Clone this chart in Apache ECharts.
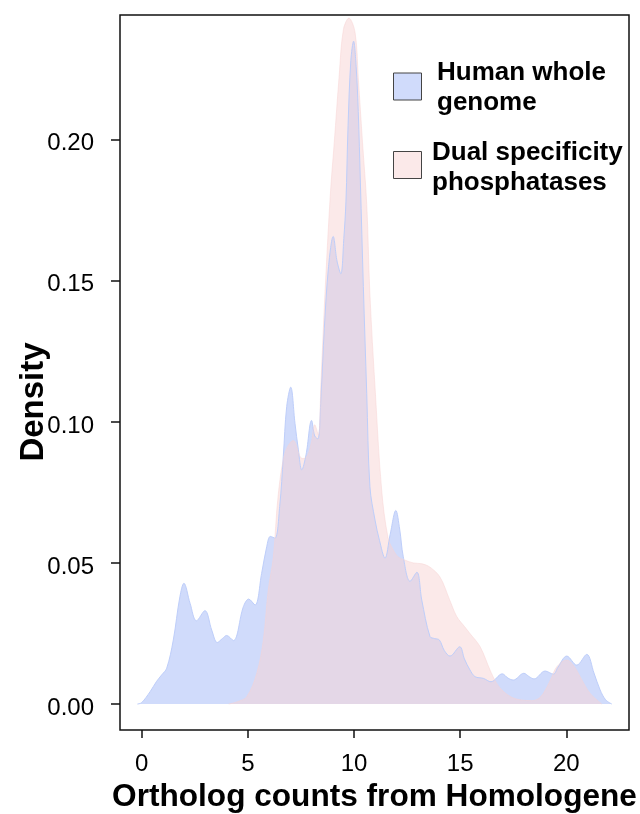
<!DOCTYPE html>
<html lang="en">
  <head>
    <meta charset="UTF-8" />
    <title>Ortholog counts density</title>
    <script src="https://cdn.jsdelivr.net/npm/echarts@6/dist/echarts.min.js"></script>
    <style>
      html, body { margin: 0; padding: 0; background: #fff; }
    </style>
  </head>
  <body>
    <div id="chart" style="width: 640px; height: 814px"></div>

    <script>
      // density curve: x = ortholog count, y = density
      var genomeX = [-0.2, 0.0, 0.4, 0.7, 0.94, 1.18, 1.49, 1.8, 1.99, 2.28, 2.58, 2.98, 3.3, 3.56, 3.8, 4.0, 4.32, 4.79, 5.04, 5.34, 5.65, 5.89, 6.06, 6.28, 6.5, 6.67, 6.83, 7.02, 7.22, 7.38, 7.54, 7.74, 8.0, 8.15, 8.3, 8.45, 8.6, 8.8, 9.02, 9.2, 9.38, 9.52, 9.62, 9.72, 9.85, 9.98, 10.1, 10.2, 10.3, 10.44, 10.6, 10.75, 10.99, 11.2, 11.46, 11.7, 11.97, 12.15, 12.32, 12.64, 12.96, 13.19, 13.58, 13.8, 14.02, 14.25, 14.52, 14.98, 15.2, 15.46, 15.7, 16.09, 16.45, 16.98, 17.25, 17.5, 18.0, 18.25, 18.48, 19.0, 19.39, 19.6, 20.02, 20.49, 20.96, 21.3, 21.59, 21.85, 22.14];
      var genomeY = [0, 0.0005, 0.0044, 0.008, 0.0103, 0.0127, 0.0227, 0.038, 0.0428, 0.0357, 0.0295, 0.0331, 0.0262, 0.0218, 0.0232, 0.0243, 0.0225, 0.0345, 0.0372, 0.0351, 0.0463, 0.0558, 0.0594, 0.0588, 0.07, 0.0877, 0.1054, 0.1123, 0.0995, 0.0901, 0.083, 0.0883, 0.1005, 0.095, 0.094, 0.11, 0.133, 0.155, 0.1657, 0.157, 0.1525, 0.165, 0.178, 0.205, 0.228, 0.2349, 0.226, 0.21, 0.185, 0.148, 0.11, 0.077, 0.0652, 0.058, 0.0517, 0.06, 0.0686, 0.062, 0.0522, 0.0435, 0.0467, 0.0369, 0.0239, 0.0232, 0.0227, 0.019, 0.017, 0.0203, 0.016, 0.0121, 0.0097, 0.0091, 0.0079, 0.0107, 0.0092, 0.0085, 0.0109, 0.0097, 0.0089, 0.0117, 0.0106, 0.013, 0.017, 0.0138, 0.0176, 0.011, 0.005, 0.0015, 0];

      var dspX = [4.1, 4.5, 4.95, 5.42, 5.73, 5.96, 6.2, 6.43, 6.75, 7.14, 7.46, 7.6, 7.8, 8.0, 8.15, 8.32, 8.45, 8.63, 8.88, 9.07, 9.3, 9.5, 9.76, 10.05, 10.2, 10.4, 10.6, 10.75, 11.0, 11.3, 11.6, 11.85, 12.1, 12.4, 12.8, 13.2, 13.58, 14.05, 14.5, 14.84, 15.2, 15.46, 15.94, 16.41, 16.72, 17.03, 17.4, 17.82, 18.37, 18.7, 18.92, 19.25, 19.55, 20.02, 20.35, 20.65, 21.0, 21.27, 21.67];
      var dspY = [0, 0.0008, 0.0026, 0.0109, 0.0227, 0.0404, 0.052, 0.074, 0.089, 0.0934, 0.0877, 0.087, 0.088, 0.093, 0.099, 0.0954, 0.115, 0.145, 0.18, 0.199, 0.2225, 0.239, 0.2431, 0.238, 0.222, 0.199, 0.177, 0.145, 0.111, 0.076, 0.059, 0.0546, 0.052, 0.051, 0.05, 0.0497, 0.0485, 0.045, 0.037, 0.031, 0.0275, 0.025, 0.0203, 0.012, 0.0073, 0.0045, 0.0025, 0.0015, 0.0012, 0.002, 0.0038, 0.0085, 0.0132, 0.0156, 0.0135, 0.0097, 0.005, 0.0026, 0];

      var xTicks = [0, 5, 10, 15, 20];
      var yTicks = [0, 0.05, 0.1, 0.15, 0.2];

      var font = "'Liberation Sans', Arial, Helvetica, sans-serif";
      var blueFill = "rgb(208,219,251)";
      var pinkFill = "rgb(247,211,211)";

      function pairs(xs, ys) {
        return xs.map(function (x, i) {
          return [x, ys[i]];
        });
      }

      var myChart = echarts.init(document.getElementById("chart"), null, { renderer: "canvas" });

      var option = {
        animation: false,
        backgroundColor: "#fff",
        textStyle: { fontFamily: font, color: "#000" },
        grid: {
          left: 120,
          right: 11,
          top: 15,
          bottom: 84,
          outerBoundsMode: "none",
          containLabel: false,
          show: true,
          borderColor: "#111",
          borderWidth: 1.5,
          backgroundColor: "transparent",
        },
        xAxis: {
          type: "value",
          min: -1.02,
          max: 22.95,
          name: "Ortholog counts from Homologene",
          nameLocation: "middle",
          nameGap: 47,
          nameTextStyle: { fontFamily: font, fontSize: 31.6, fontWeight: "bold", color: "#000" },
          axisLine: { show: false, onZero: false },
          splitLine: { show: false },
          axisTick: {
            show: true,
            length: 8,
            customValues: xTicks,
            lineStyle: { color: "#111", width: 1.5 },
          },
          axisLabel: {
            customValues: xTicks,
            fontFamily: font,
            fontSize: 24,
            color: "#000",
            margin: 22,
          },
        },
        yAxis: {
          type: "value",
          min: -0.0092,
          max: 0.2442,
          axisLine: { show: false, onZero: false },
          splitLine: { show: false },
          axisTick: {
            show: true,
            length: 9,
            customValues: yTicks,
            lineStyle: { color: "#111", width: 1.5 },
          },
          axisLabel: {
            customValues: yTicks,
            fontFamily: font,
            fontSize: 24,
            color: "#000",
            margin: 26,
            formatter: function (v) {
              return "{v|" + v.toFixed(2) + "}";
            },
            rich: {
              v: { fontFamily: font, fontSize: 24, color: "#000", padding: [8, 0, 0, 0] },
            },
          },
        },
        series: [
          {
            name: "Human whole genome",
            type: "line",
            data: pairs(genomeX, genomeY),
            smooth: 0.35,
            symbol: "none",
            silent: true,
            lineStyle: { color: "rgb(190,206,250)", width: 1 },
            areaStyle: { color: blueFill, opacity: 1 },
          },
          {
            name: "Dual specificity phosphatases",
            type: "line",
            data: pairs(dspX, dspY),
            smooth: 0.35,
            symbol: "none",
            silent: true,
            lineStyle: { color: pinkFill, width: 1, opacity: 0.5 },
            areaStyle: { color: pinkFill, opacity: 0.5 },
          },
        ],
        graphic: [
          {
            type: "text",
            x: 34,
            y: 402,
            rotation: Math.PI / 2,
            style: {
              text: "Density",
              font: "bold 33px " + font,
              fill: "#000",
              align: "center",
              verticalAlign: "middle",
            },
          },
          {
            type: "rect",
            shape: { x: 393.5, y: 73, width: 28, height: 27 },
            style: { fill: blueFill, stroke: "#444", lineWidth: 1 },
          },
          {
            type: "rect",
            shape: { x: 393.5, y: 151.5, width: 28, height: 27 },
            style: { fill: "rgb(251,233,233)", stroke: "#444", lineWidth: 1 },
          },
          {
            type: "text",
            x: 437,
            y: 73,
            style: { text: "Human whole", font: "bold 26px " + font, fill: "#000", verticalAlign: "middle" },
          },
          {
            type: "text",
            x: 437,
            y: 103,
            style: { text: "genome", font: "bold 26px " + font, fill: "#000", verticalAlign: "middle" },
          },
          {
            type: "text",
            x: 432,
            y: 153,
            style: { text: "Dual specificity", font: "bold 26px " + font, fill: "#000", verticalAlign: "middle" },
          },
          {
            type: "text",
            x: 432,
            y: 183,
            style: { text: "phosphatases", font: "bold 26px " + font, fill: "#000", verticalAlign: "middle" },
          },
        ],
      };

      myChart.setOption(option);
    </script>
  </body>
</html>
